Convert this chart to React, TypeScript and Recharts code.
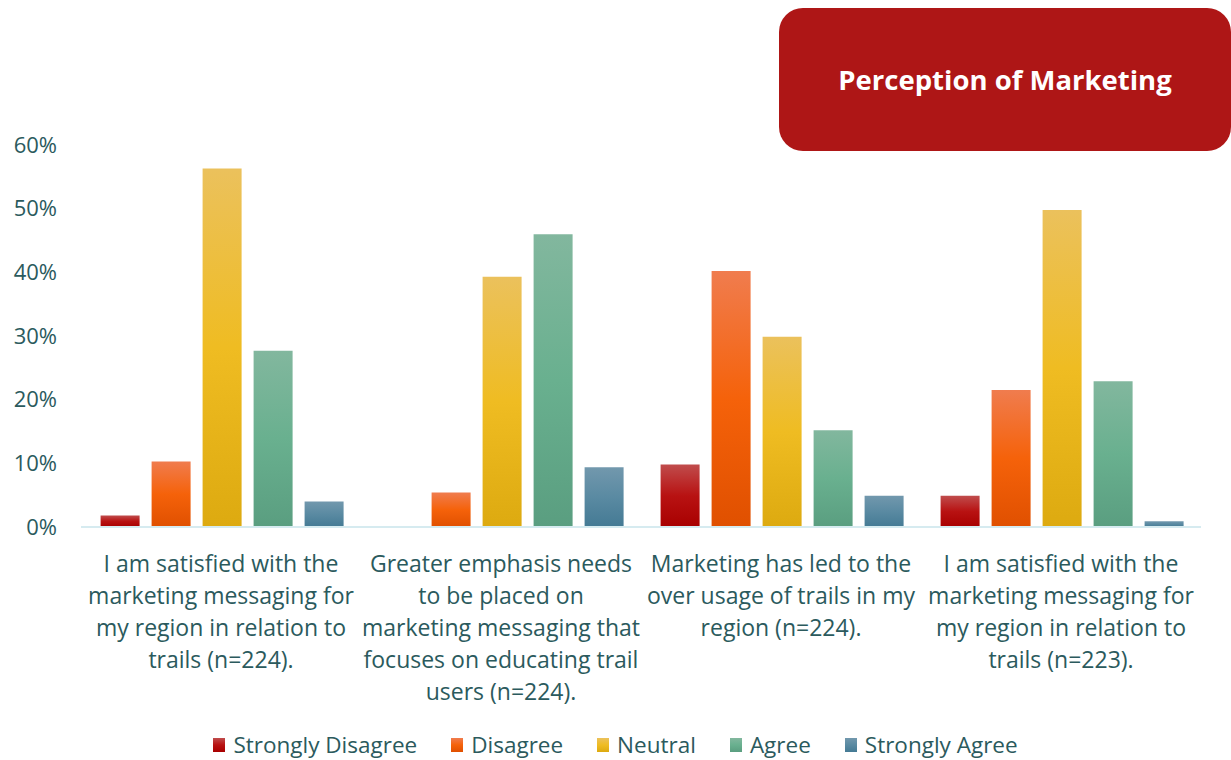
import { BarChart, Bar, XAxis, YAxis, Legend } from 'recharts';

const categories = [
  'I am satisfied with the\nmarketing messaging for\nmy region in relation to\ntrails (n=224).',
  'Greater emphasis needs\nto be placed on\nmarketing messaging that\nfocuses on educating trail\nusers (n=224).',
  'Marketing has led to the\nover usage of trails in my\nregion (n=224).',
  'I am satisfied with the\nmarketing messaging for\nmy region in relation to\ntrails (n=223).',
];
const stronglyDisagree = [1.8, 0, 9.8, 4.9];
const disagree = [10.3, 5.4, 40.2, 21.5];
const neutral = [56.3, 39.3, 29.9, 49.8];
const agree = [27.7, 46.0, 15.2, 22.9];
const stronglyAgree = [4.0, 9.4, 4.9, 0.9];
const yTicks = [0, 10, 20, 30, 40, 50, 60];

const series = [
  { key: 'sd', name: 'Strongly Disagree', values: stronglyDisagree, top: '#c04c4c', mid: '#b81212', bottom: '#a80000' },
  { key: 'd', name: 'Disagree', values: disagree, top: '#f07c4e', mid: '#f5620a', bottom: '#e05000' },
  { key: 'n', name: 'Neutral', values: neutral, top: '#ebc15c', mid: '#efbc22', bottom: '#ddaa10' },
  { key: 'a', name: 'Agree', values: agree, top: '#82b79e', mid: '#69b08f', bottom: '#5a9e80' },
  { key: 'sa', name: 'Strongly Agree', values: stronglyAgree, top: '#7298ad', mid: '#5a8aa2', bottom: '#447a94' },
];

const data = categories.map((c, i) => {
  const row: Record<string, string | number> = { name: c };
  series.forEach((s) => (row[s.key] = s.values[i]));
  return row;
});

const FONT = '"Open Sans", sans-serif';
const TEXT = '#2b5a5d';

function CategoryTick({ x, y, payload }: any) {
  const lines = String(payload.value).split('\n');
  return (
    <text x={x} y={y + 37} textAnchor="middle" fill={TEXT} fontSize={23} fontFamily={FONT}>
      {lines.map((l, i) => (
        <tspan key={i} x={x} dy={i === 0 ? 0 : 32}>
          {l}
        </tspan>
      ))}
    </text>
  );
}

function LegendBox() {
  return (
    <div style={{ display: 'flex', justifyContent: 'center', alignItems: 'center', fontFamily: FONT, fontSize: 22.5, color: TEXT }}>
      {series.map((s) => (
        <div key={s.key} style={{ display: 'flex', alignItems: 'center', margin: '0 17px' }}>
          <span
            style={{
              display: 'inline-block',
              width: 12,
              height: 14,
              marginRight: 8,
              background: `linear-gradient(${s.top}, ${s.mid}, ${s.bottom})`,
            }}
          />
          <span>{s.name}</span>
        </div>
      ))}
    </div>
  );
}

export default function App() {
  return (
    <div style={{ position: 'absolute', left: 0, top: 0, width: 1231, height: 760, background: '#fff' }}>
      <BarChart
        width={1231}
        height={760}
        data={data}
        margin={{ top: 145, right: 30, bottom: 203, left: 0 }}
        barCategoryGap="7%"
        barGap={12}
      >
        <defs>
          {series.map((s) => (
            <linearGradient key={s.key} id={`g-${s.key}`} x1="0" y1="0" x2="0" y2="1">
              <stop offset="0%" stopColor={s.top} />
              <stop offset="50%" stopColor={s.mid} />
              <stop offset="100%" stopColor={s.bottom} />
            </linearGradient>
          ))}
        </defs>
        <XAxis
          dataKey="name"
          height={30}
          axisLine={{ stroke: '#d6ebf0', strokeWidth: 2 }}
          tickLine={false}
          interval={0}
          tick={<CategoryTick />}
        />
        <YAxis
          width={81}
          domain={[0, 60]}
          ticks={yTicks}
          axisLine={false}
          tickLine={false}
          tickMargin={18}
          tickFormatter={(v) => `${v}%`}
          tick={{ fill: TEXT, fontSize: 22, fontFamily: FONT }}
        />
        <Legend verticalAlign="middle" align="center" wrapperStyle={{ top: 729, left: 0, width: 1231 }} content={<LegendBox />} />
        {series.map((s) => (
          <Bar key={s.key} dataKey={s.key} name={s.name} fill={`url(#g-${s.key})`} isAnimationActive={false} />
        ))}
      </BarChart>
      <div
        style={{
          position: 'absolute',
          left: 779,
          top: 8,
          width: 452,
          height: 143,
          borderRadius: 24,
          background: '#ae1616',
          color: '#fff',
          fontFamily: FONT,
          fontWeight: 700,
          fontSize: 27.5,
          display: 'flex',
          alignItems: 'center',
          justifyContent: 'center',
          boxSizing: 'border-box',
        }}
      >
        Perception of Marketing
      </div>
    </div>
  );
}
